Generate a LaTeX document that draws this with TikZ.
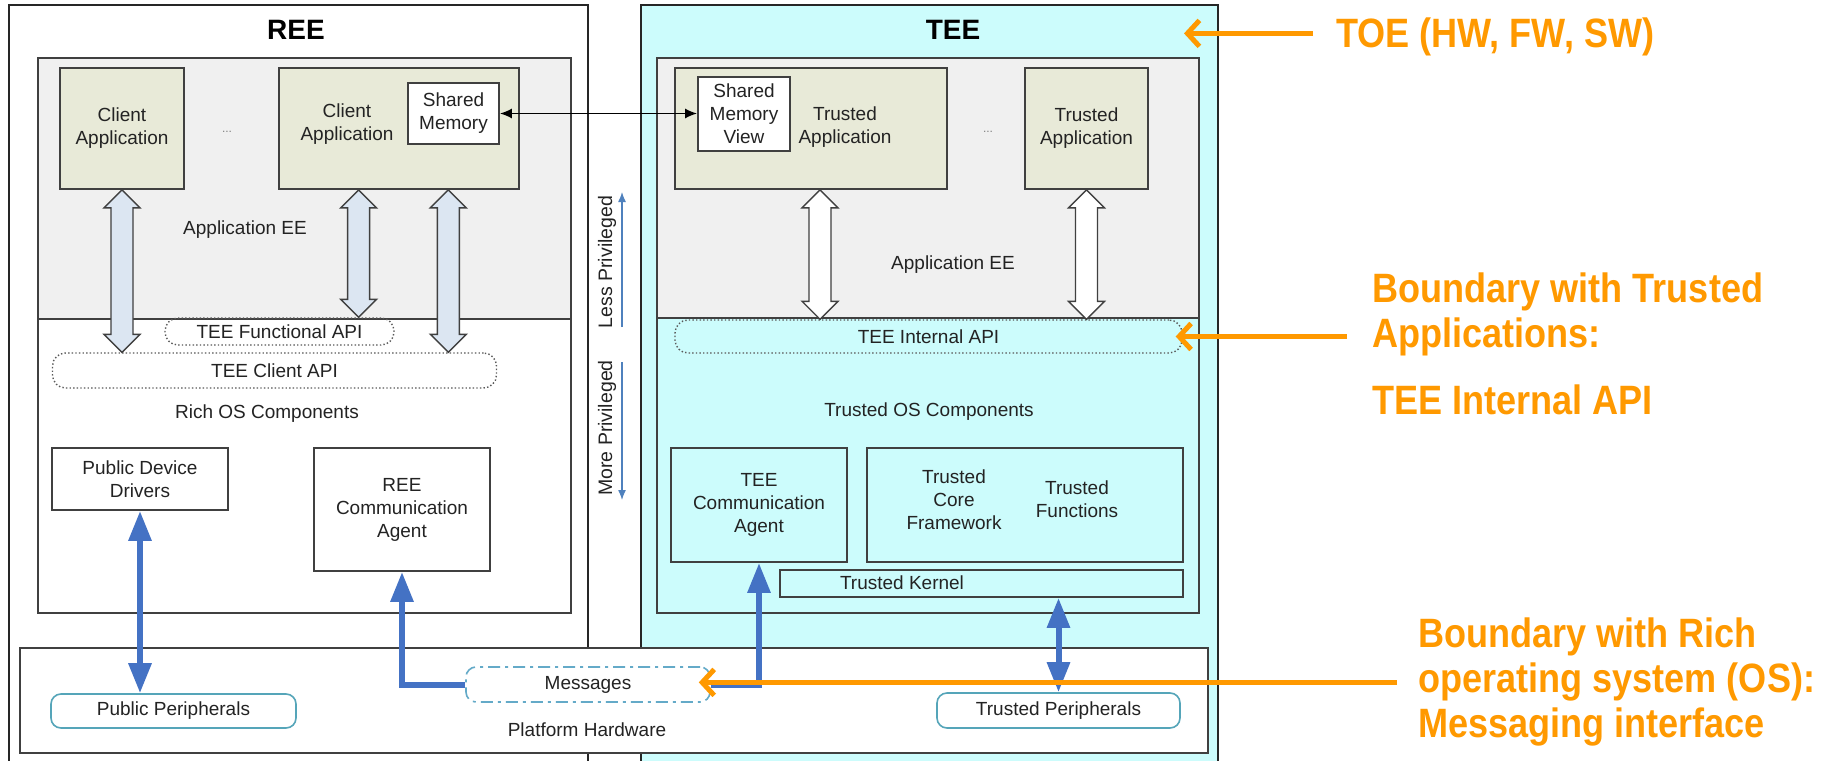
\documentclass[tikz,border=0pt]{standalone}
\usepackage{fontspec}
\setmainfont{Liberation Sans}
\newfontfamily\notefont[FakeStretch=0.88]{Liberation Sans}
\usetikzlibrary{positioning,calc,arrows.meta}

\definecolor{teecyan}{RGB}{204,252,252}
\definecolor{appgray}{RGB}{240,240,240}
\definecolor{appolive}{RGB}{232,234,216}
\definecolor{apiblue}{RGB}{220,230,242}
\definecolor{hwblue}{RGB}{68,114,196}
\definecolor{privblue}{RGB}{79,129,189}
\definecolor{periteal}{RGB}{85,165,185}
\definecolor{msgblue}{RGB}{100,170,200}
\definecolor{toeorange}{RGB}{255,153,0}
\definecolor{linegray}{RGB}{64,64,64}
\definecolor{textgray}{RGB}{35,35,35}

% hollow double arrow between two anchors (x taken from the first one)
\newcommand{\fatarrow}[3]{%
  \filldraw[#1] let \p1=(#2), \p2=(#3) in
    (\x1,\y1) -- (\x1+18pt,\y1-18pt) -- (\x1+11pt,\y1-18pt) -- (\x1+11pt,\y2+18pt)
    -- (\x1+18pt,\y2+18pt) -- (\x1,\y2) -- (\x1-18pt,\y2+18pt) -- (\x1-11pt,\y2+18pt)
    -- (\x1-11pt,\y1-18pt) -- (\x1-18pt,\y1-18pt) -- cycle;}

\begin{document}
\begin{tikzpicture}[x=1pt, y=-1pt, every node/.style={inner sep=0pt, align=center, text=textgray, font=\fontsize{19}{23}\selectfont}]
  \tikzstyle{outer}=[draw=black!85, line width=2.6pt]
  \tikzstyle{region}=[draw=linegray, line width=2pt]
  \tikzstyle{box}=[draw=linegray, line width=1.8pt]
  \tikzstyle{appbox}=[box, fill=appolive]
  \tikzstyle{api}=[draw=gray!70!black, line width=1.4pt, dash pattern=on 1.4pt off 2.2pt, rounded corners=13pt]
  \tikzstyle{peri}=[draw=periteal, line width=1.6pt, rounded corners=10pt, fill=white]
  \tikzstyle{title}=[font=\bfseries\fontsize{28}{30}\selectfont, text=black]
  \tikzstyle{dots}=[font=\fontsize{12}{12}\selectfont, text=gray]
  \tikzstyle{priv}=[rotate=90, font=\fontsize{19.5}{20}\selectfont]
  \tikzstyle{note}=[font=\notefont\bfseries\fontsize{41}{45}\selectfont, text=toeorange, align=left]
  \tikzstyle{hwline}=[draw=hwblue, line width=6pt, >={Triangle[width=22pt,length=30pt]}]
  \tikzstyle{revarrow}=[fill=apiblue, draw=linegray, line width=1.4pt]
  \tikzstyle{teearrow}=[fill=white, draw=linegray, line width=1.4pt]
  \tikzstyle{privarrow}=[draw=privblue, line width=1.3pt, -{Latex[length=10pt,width=8pt]}]
  \tikzstyle{toearrow}=[draw=toeorange, line width=5pt, -{Straight Barb[length=12pt,width=26pt]}]

  \useasboundingbox (0,0) rectangle (1841,760);

  % REE / TEE frames
  \draw[outer] (9,765) |- (588,5) -- (588,765);
  \filldraw[outer, fill=teecyan] (641,765) |- (1218,5) -- (1218,765);
  \node[title] (ree) at (296,30) {REE};
  \node[title] (tee) at (953,30) {TEE};

  \filldraw[region, fill=white] (38,58) rectangle (571,613);
  \filldraw[region, fill=appgray] (38,58) rectangle (571,319);
  \filldraw[region, fill=teecyan] (657,58) rectangle (1199,613);
  \filldraw[region, fill=appgray] (657,58) rectangle (1199,318);

  \node[box, fill=white, minimum width=1188pt, minimum height=105pt] (hw) at (614,700.5) {};
  \node (hwlbl) at (587,730) {Platform Hardware};

  % REE side
  \node[appbox, minimum width=124pt, minimum height=121pt] (ca1) at (122,128.5) {Client\\Application};
  \node[dots] (dots1) at (227,132) {...};
  \node[appbox, minimum width=240pt, minimum height=121pt] (ca2) at (399,128.5) {};
  \node (ca2lbl) at (347,124) {Client\\Application};
  \node[box, fill=white, minimum width=91pt, minimum height=61pt] (shm) at (453.5,113.5) {Shared\\Memory};
  \node (reeaee) at (245,230) {Application EE};
  \node[api, minimum width=229pt, minimum height=27pt] (fapi) at (279.5,331.5) {TEE Functional API};
  \node[api, minimum width=444pt, minimum height=35pt] (capi) at (274.5,370.5) {TEE Client API};
  \node (richos) at (267,414) {Rich OS Components};
  \node[box, minimum width=176pt, minimum height=62pt] (pdd) at (140,479) {Public Device\\Drivers};
  \node[box, minimum width=176pt, minimum height=123pt] (rca) at (402,509.5) {REE\\Communication\\Agent};

  % TEE side
  \node[appbox, minimum width=272pt, minimum height=121pt] (ta1) at (811,128.5) {};
  \node[box, fill=white, minimum width=92pt, minimum height=74pt] (smv) at (744,114) {Shared\\Memory\\View};
  \node (ta1lbl) at (845,127) {Trusted\\Application};
  \node[dots] (dots2) at (988,132) {...};
  \node[appbox, minimum width=123pt, minimum height=121pt] (ta2) at (1086.5,128.5) {Trusted\\Application};
  \node (teeaee) at (953,265) {Application EE};
  \node[api, minimum width=507pt, minimum height=33pt] (iapi) at (928.5,336.5) {TEE Internal API};
  \node (tos) at (929,412) {Trusted OS Components};
  \node[box, minimum width=176pt, minimum height=114pt] (tca) at (759,505) {TEE\\Communication\\Agent};
  \node[box, minimum width=316pt, minimum height=114pt] (tfw) at (1025,505) {};
  \node (tcflbl) at (954,500) {Trusted\\Core\\Framework};
  \node (tfnlbl) at (1077,499) {Trusted\\Functions};
  \node[box, minimum width=403pt, minimum height=27pt] (tk) at (981.5,583.5) {};
  \node (tklbl) at (902,583) {Trusted Kernel};

  % hardware
  \node[peri, minimum width=245pt, minimum height=34pt] (pp) at (173.5,711) {Public Peripherals};
  \node[peri, minimum width=243pt, minimum height=35pt] (tp) at (1058.5,710.5) {Trusted Peripherals};
  \node[peri, draw=msgblue, dash pattern=on 12pt off 5pt on 3pt off 5pt, minimum width=244pt, minimum height=35pt] (msg) at (588,684.5) {Messages};

  % privilege
  \node[priv] (lesspriv) at (607,262) {Less Privileged};
  \node[priv] (morepriv) at (607,428) {More Privileged};
  \coordinate (lp0) at (622,327);
  \coordinate (lp1) at (622,192);
  \coordinate (mp0) at (622,362);
  \coordinate (mp1) at (622,500);
  \draw[privarrow] (lp0) -- (lp1);
  \draw[privarrow] (mp0) -- (mp1);

  % connectors
  \draw[black, line width=1.5pt, {Latex[length=12pt,width=10pt]}-{Latex[length=12pt,width=10pt]}] (shm.east) -- (shm.east -| smv.west);
  \fatarrow{revarrow}{ca1.south}{capi.north}
  \fatarrow{revarrow}{$(ca2.south west)!0.333!(ca2.south east)$}{fapi.north}
  \fatarrow{revarrow}{$(ca2.south west)!0.704!(ca2.south east)$}{capi.north}
  \fatarrow{teearrow}{$(ta1.south west)!0.533!(ta1.south east)$}{iapi.north}
  \fatarrow{teearrow}{ta2.south}{iapi.north}

  \draw[hwline, <->] (pdd.south) -- (pdd.south |- pp.north);
  \draw[hwline, ->] (msg.west) -| (rca.south);
  \draw[hwline, ->] (msg.east) -| (tca.south);
  \draw[hwline, <->] (tk.south -| tp.north) -- (tp.north);

  % TOE notes
  \node[note, anchor=base west] (toe) at (1336,48) {TOE (HW, FW, SW)};
  \node[note, anchor=north west] (bta) at (1372,273) {Boundary with Trusted\\Applications:\\[22pt]TEE Internal API};
  \node[note, anchor=north west] (bro) at (1418,618) {Boundary with Rich\\operating system (OS):\\Messaging interface};
  \draw[toearrow] ([xshift=-23pt,yshift=4pt]toe.west) -- +(-129,0);
  \draw[toearrow] ($(bta.west |- iapi.east)+(-25,0)$) -- ($(iapi.east)+(-7,0)$);
  \draw[toearrow] ($(bro.west)+(-21,0)$) -- ($(bro.west -| msg.east)+(-12,0)$);
\end{tikzpicture}
\end{document}
